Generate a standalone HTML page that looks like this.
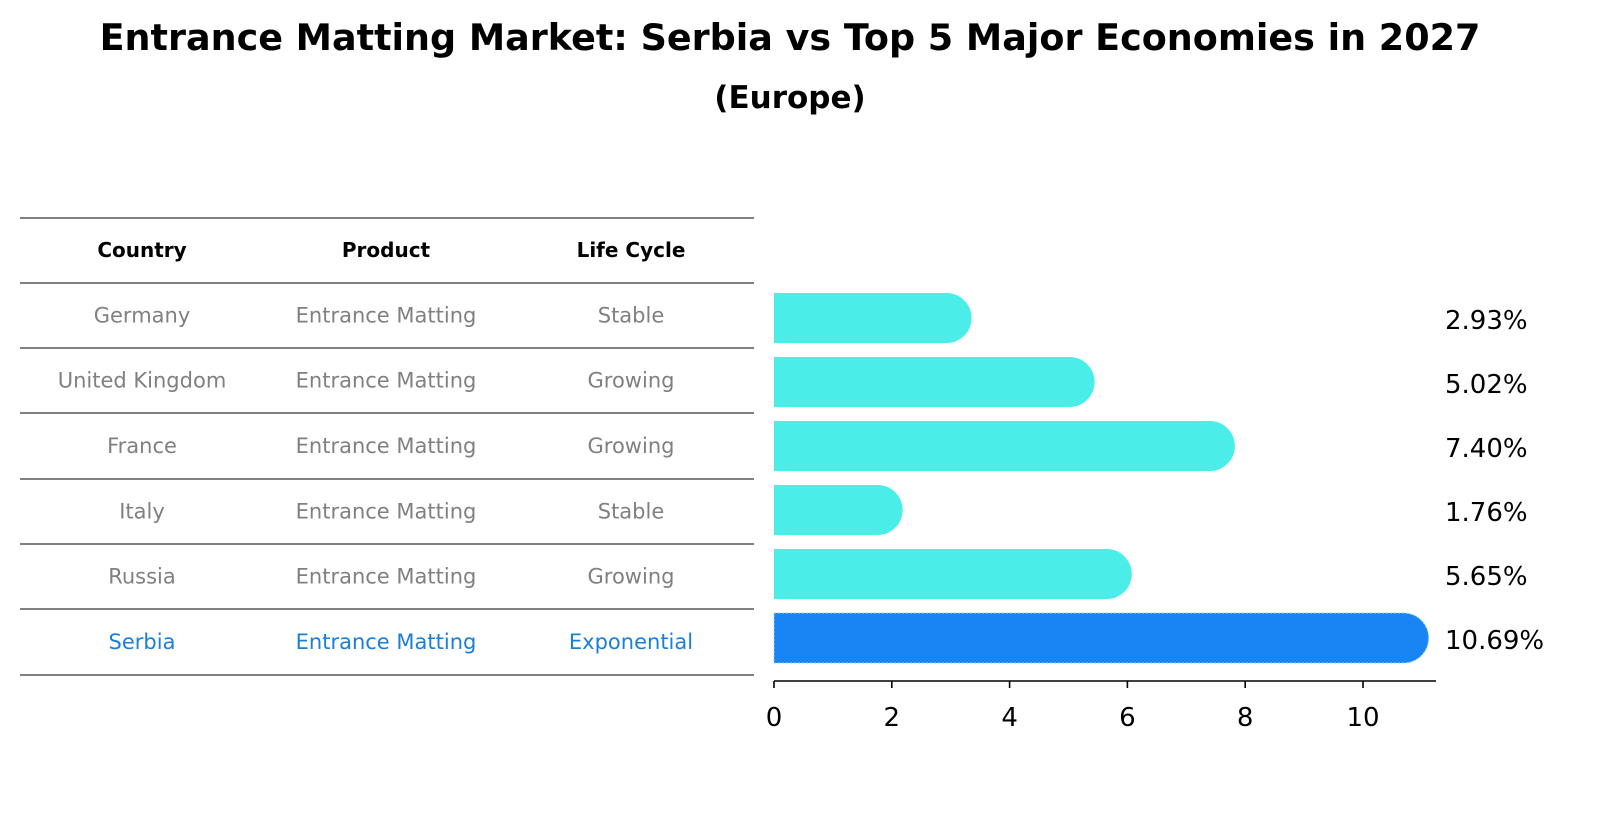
<!DOCTYPE html>
<html><head><meta charset="utf-8"><style>
body{margin:0;background:#fff;font-family:"Liberation Sans","DejaVu Sans",sans-serif}
</style></head><body>
<svg width="1604" height="823" viewBox="0 0 1604 823" xmlns="http://www.w3.org/2000/svg" font-family="DejaVu Sans, Liberation Sans, sans-serif">
<text x="790" y="50" text-anchor="middle" font-size="36.5" font-weight="bold">Entrance Matting Market: Serbia vs Top 5 Major Economies in 2027</text>
<text x="790" y="108" text-anchor="middle" font-size="31" font-weight="bold">(Europe)</text>
<g id="table"></g>
<g id="bars"></g>
</svg>
<script>
const countries=["Germany","United Kingdom","France","Italy","Russia","Serbia"];
const products=["Entrance Matting","Entrance Matting","Entrance Matting","Entrance Matting","Entrance Matting","Entrance Matting"];
const lifeCycles=["Stable","Growing","Growing","Stable","Growing","Exponential"];
const values=[2.93,5.02,7.40,1.76,5.65,10.69];
const xTicks=[0,2,4,6,8,10];
const NS="http://www.w3.org/2000/svg";
function mk(t,a,p){const e=document.createElementNS(NS,t);for(const k in a)e.setAttribute(k,a[k]);p.appendChild(e);return e;}
const x=v=>774+v*58.9;
const rowY=i=>318+i*64.0;
const tbl=document.getElementById('table');
const lines=[218,283,348,413,479,544,609,675];
lines.forEach((ly,i)=>{const l=mk('line',{x1:20,x2:754,y1:ly,y2:ly,stroke:'#000','stroke-width':1},tbl);

});
const cx=[142,386,631];
["Country","Product","Life Cycle"].forEach((h,j)=>{const t=mk('text',{x:cx[j],y:257,'text-anchor':'middle','font-size':20,'font-weight':'bold'},tbl);t.textContent=h;

});
countries.forEach((c,i)=>{const col=i===5?'#1a7fd8':'#808080';const ty=(lines[i+1]+lines[i+2])/2+7;
[c,products[i],lifeCycles[i]].forEach((s,j)=>{const t=mk('text',{x:cx[j],y:ty,'text-anchor':'middle','font-size':21,fill:col},tbl);t.textContent=s;

});});
const g=document.getElementById('bars');
const h=50,r=25;
values.forEach((v,i)=>{const cy=rowY(i);const col=i===5?'#1985f5':'#4aede8';const x0=x(0),x1=x(v);
const p=mk('path',{d:`M${x0},${cy-h/2} L${x1},${cy-h/2} A${r},${r} 0 0 1 ${x1},${cy+h/2} L${x0},${cy+h/2} Z`,fill:col},g);
if(i===5){p.setAttribute('stroke','#9fd0ff');p.setAttribute('stroke-dasharray','2,2');p.setAttribute('stroke-width','1');}


const t=mk('text',{x:1445,y:cy+11,'font-size':26,fill:'#000'},g);t.textContent=v.toFixed(2)+'%';

});
const ax=mk('line',{x1:774,x2:1436,y1:681,y2:681,stroke:'#000','stroke-width':1.6},g);


xTicks.forEach(v=>{const tk=mk('line',{x1:x(v),x2:x(v),y1:681,y2:688,stroke:'#000','stroke-width':1.6},g);


const t=mk('text',{x:x(v),y:726,'text-anchor':'middle','font-size':26},g);t.textContent=v;

});
</script>
</body></html>
